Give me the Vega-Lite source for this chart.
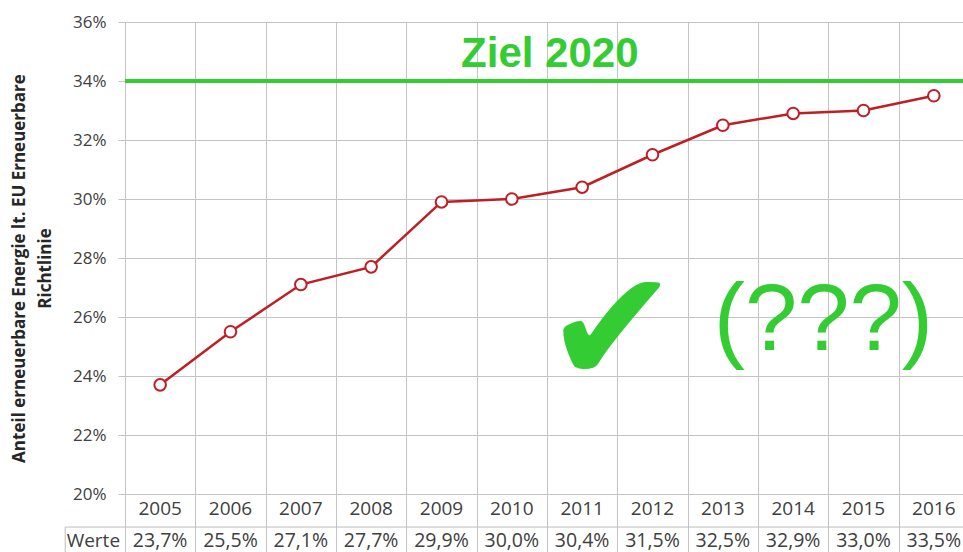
{
  "$schema": "https://vega.github.io/schema/vega-lite/v6.json",
  "width": 844,
  "height": 531,
  "autosize": {"type": "none"},
  "padding": {"left": 125, "top": 22, "right": 0, "bottom": 0},
  "background": "white",
  "config": {"view": {"stroke": null}},
  "data": {
    "values": [
      {"year": 2005, "value": 23.7},
      {"year": 2006, "value": 25.5},
      {"year": 2007, "value": 27.1},
      {"year": 2008, "value": 27.7},
      {"year": 2009, "value": 29.9},
      {"year": 2010, "value": 30.0},
      {"year": 2011, "value": 30.4},
      {"year": 2012, "value": 31.5},
      {"year": 2013, "value": 32.5},
      {"year": 2014, "value": 32.9},
      {"year": 2015, "value": 33.0},
      {"year": 2016, "value": 33.5}
    ]
  },
  "layer": [
    {
      "mark": {"type": "line", "color": "#bf1e24", "strokeWidth": 2.5},
      "encoding": {
        "x": {
          "field": "year", "type": "quantitative",
          "scale": {"domain": [2004.5, 2016.5], "nice": false, "zero": false},
          "axis": {
            "values": [2004.5, 2005.5, 2006.5, 2007.5, 2008.5, 2009.5, 2010.5, 2011.5, 2012.5, 2013.5, 2014.5, 2015.5, 2016.5],
            "grid": true, "gridColor": "#c4c4c4", "gridWidth": 1,
            "labels": false, "ticks": false, "domain": false, "title": null
          }
        },
        "y": {
          "field": "value", "type": "quantitative",
          "scale": {"domain": [18, 36], "nice": false, "zero": false},
          "axis": {
            "values": [20, 22, 24, 26, 28, 30, 32, 34, 36],
            "grid": true, "gridColor": "#c4c4c4", "gridWidth": 1,
            "ticks": true, "tickColor": "#c4c4c4", "tickSize": 7,
            "domain": false,
            "labelExpr": "datum.value + '%'",
            "labelFont": "Open Sans", "labelFontSize": 17, "labelColor": "#404040",
            "labelPadding": 12, "labelBaseline": "middle",
            "title": ["Anteil erneuerbare Energie lt. EU Erneuerbare", "Richtlinie"],
            "titleFont": "Open Sans", "titleFontSize": 17, "titleFontWeight": "bold",
            "titleColor": "#262626", "titleAngle": -90, "titleAlign": "center",
            "titleBaseline": "alphabetic", "titleLineHeight": 26,
            "titleX": -101, "titleY": 246
          }
        }
      }
    },
    {
      "mark": {"type": "point", "filled": true, "fill": "white", "stroke": "#bf1e24", "strokeWidth": 2, "size": 135, "opacity": 1},
      "encoding": {
        "x": {"field": "year", "type": "quantitative"},
        "y": {"field": "value", "type": "quantitative"}
      }
    },
    {
      "mark": {"type": "text", "font": "Open Sans", "fontSize": 19, "color": "#404040", "baseline": "middle", "align": "center"},
      "encoding": {
        "x": {"field": "year", "type": "quantitative"},
        "y": {"datum": 19.49, "type": "quantitative"},
        "text": {"field": "year", "type": "nominal"}
      }
    },
    {
      "transform": [{"calculate": "replace(format(datum.value, '.1f'), '.', ',') + '%'", "as": "label"}],
      "mark": {"type": "text", "font": "Open Sans", "fontSize": 19.5, "color": "#404040", "baseline": "middle", "align": "center"},
      "encoding": {
        "x": {"field": "year", "type": "quantitative"},
        "y": {"datum": 18.41, "type": "quantitative"},
        "text": {"field": "label", "type": "nominal"}
      }
    },
    {
      "data": {"values": [{"label": "Werte"}]},
      "mark": {"type": "text", "font": "Open Sans", "fontSize": 19, "color": "#404040", "baseline": "middle", "align": "center", "clip": false},
      "encoding": {
        "x": {"datum": 2004.05, "type": "quantitative"},
        "y": {"datum": 18.41, "type": "quantitative"},
        "text": {"field": "label", "type": "nominal"}
      }
    },
    {
      "data": {"values": [{"part": "table top"}]},
      "mark": {"type": "rule", "color": "#bcbcbc", "strokeWidth": 1},
      "encoding": {
        "x": {"datum": 2003.65, "type": "quantitative"},
        "x2": {"datum": 2016.5},
        "y": {"datum": 18.88, "type": "quantitative"}
      }
    },
    {
      "data": {"values": [{"part": "table left"}]},
      "mark": {"type": "rule", "color": "#bcbcbc", "strokeWidth": 1},
      "encoding": {
        "x": {"datum": 2003.65, "type": "quantitative"},
        "y": {"datum": 18.88, "type": "quantitative"},
        "y2": {"datum": 18}
      }
    },
    {
      "data": {"values": [{"target": 34}]},
      "mark": {"type": "rule", "color": "#33cc33", "strokeWidth": 4},
      "encoding": {
        "x": {"datum": 2004.5, "type": "quantitative"},
        "x2": {"datum": 2016.5},
        "y": {"field": "target", "type": "quantitative"}
      }
    },
    {
      "data": {"values": [{"label": "Ziel 2020"}]},
      "mark": {"type": "text", "font": "Liberation Sans", "fontWeight": "bold", "fontSize": 42, "color": "#33cc33", "baseline": "alphabetic", "align": "center"},
      "encoding": {
        "x": {"datum": 2010.54, "type": "quantitative"},
        "y": {"datum": 34.47, "type": "quantitative"},
        "text": {"field": "label", "type": "nominal"}
      }
    },
    {
      "data": {"values": [{"label": "✔"}]},
      "mark": {"type": "text", "font": "DejaVu Sans", "fontSize": 160, "color": "#33cc33", "baseline": "alphabetic", "align": "center"},
      "encoding": {
        "x": {"datum": 2011.42, "type": "quantitative"},
        "y": {"datum": 23.76, "type": "quantitative"},
        "text": {"field": "label", "type": "nominal"}
      }
    },
    {
      "data": {"values": [{"label": "(???)"}]},
      "mark": {"type": "text", "font": "Liberation Sans", "fontSize": 94, "color": "#33cc33", "baseline": "alphabetic", "align": "center"},
      "encoding": {
        "x": {"datum": 2014.43, "type": "quantitative"},
        "y": {"datum": 24.88, "type": "quantitative"},
        "text": {"field": "label", "type": "nominal"}
      }
    }
  ]
}
